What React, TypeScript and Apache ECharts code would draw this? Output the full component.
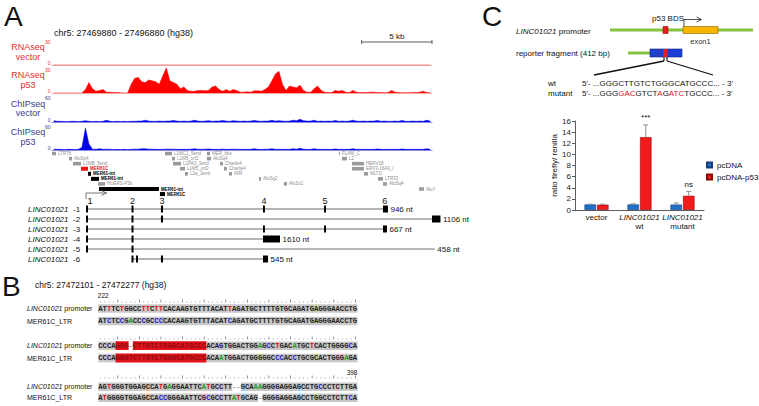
import React, { useEffect, useRef } from "react";
import * as echarts from "echarts";

const FONT = "'Liberation Sans', Arial, Helvetica, sans-serif";
const MONO = "'Liberation Mono', 'DejaVu Sans Mono', monospace";

// ---------------- Panel A data ----------------
const regionLabelA = "chr5: 27469880 - 27496880 (hg38)";
const REGION_KB = 27;
const BIN_KB = 0.25;
const scaleBarKb = 5;

const rnaseqVector = [
  0, 0, 0, 0, 0, 0, 0, 0, 0, 0, 0, 0, 0, 0, 0, 0, 0, 0,
  0, 0, 0, 0, 0, 0, 0, 0, 0, 0, 0, 0, 0, 0, 0, 0, 0, 0,
  0, 0, 0, 0, 0, 0, 0, 0, 0, 0, 0, 0, 0, 0, 0, 0, 0, 0,
  0, 0, 0, 0, 0, 0, 0, 0, 0, 0, 0, 0, 0, 0, 0, 0, 0, 0,
  0, 0, 0, 0, 0, 0, 0, 0, 0, 0, 0, 0, 0, 0, 0, 0, 0, 0,
  0, 0, 0, 0, 0, 0, 0, 0, 0, 0, 0, 0, 0, 0, 0, 0, 0, 0,
];
const rnaseqP53 = [
  0, 0, 0, 0, 0, 0, 0, 0, 0, 4, 12, 5,
  2, 3, 4, 1, 1, 0.5, 0.5, 0.3, 0, 0, 10, 17,
  18, 13, 12, 15, 14, 13, 10, 20, 29, 14, 12, 10,
  5, 7, 3, 2, 2, 3, 3, 2.5, 3, 7, 8, 4,
  2, 4, 2, 4, 3, 1, 1, 1.5, 1, 2.5, 2.5, 2,
  4, 7, 14, 22, 25, 10, 3, 8, 7, 6, 9, 3,
  1, 1, 5, 8, 3, 1, 0.5, 0.5, 3, 2, 3, 1,
  0.5, 3, 1, 0.5, 0.5, 0.5, 1, 1, 0.5, 0.5, 0.3, 0.5,
  3, 1, 0.5, 0.3, 0.3, 0.3, 0.5, 0.5, 1, 2, 0.5, 0.3,
];
const chipVector = [
  3, 1.5, 1.5, 1, 1, 1.5, 1.5, 1, 1.5, 3, 1.5, 1,
  1.5, 1, 1.5, 4, 1.5, 1, 1.5, 1, 1.5, 1, 1.5, 1.5,
  2, 2, 4, 2, 1.5, 1.5, 2, 1.5, 2, 2, 3.5, 2,
  1.5, 2, 1.5, 2, 4, 2, 1.5, 2, 3, 1.5, 2, 2,
  3.5, 2, 1.5, 3, 2, 1.5, 2, 1.5, 2, 3.5, 2, 1.5,
  2, 2, 4, 2, 3, 2, 1.5, 2, 4, 3, 6, 3,
  2, 2, 4, 1.5, 2, 1.5, 2, 1.5, 3.5, 1.5, 2, 1.5,
  2, 4, 2, 1.5, 2, 1.5, 2, 2, 3.5, 1.5, 2, 1.5,
  1.5, 2, 1.5, 3.5, 1.5, 1.5, 2, 1.5, 2, 1.5, 4, 2,
];
const chipP53 = [
  2, 1.5, 1.5, 1, 1.5, 1.5, 1, 1.5, 6, 51, 14, 2,
  1.5, 3, 1.5, 2, 1.5, 1, 1.5, 1, 1.5, 1, 1.5, 2,
  2, 3, 3, 2, 2, 1.5, 1.5, 1.5, 2, 2, 2, 1.5,
  1.5, 1.5, 1.5, 2, 3, 1.5, 1.5, 2, 2.5, 1.5, 1.5, 1.5,
  2, 1.5, 1.5, 2, 1.5, 1.5, 1.5, 1.5, 1.5, 3, 1.5, 1.5,
  1.5, 2, 3, 1.5, 2, 1.5, 1.5, 1.5, 3, 2, 4, 2,
  1.5, 1.5, 3, 1.5, 1.5, 1.5, 1.5, 1.5, 2.5, 1.5, 1.5, 1.5,
  1.5, 3, 1.5, 1.5, 1.5, 1.5, 1.5, 1.5, 2.5, 1.5, 1.5, 1.5,
  1.5, 1.5, 1.5, 2.5, 1.5, 1.5, 1.5, 1.5, 1.5, 1.5, 3, 1.5,
];
const trackTitles = [["RNAseq", "vector"], ["RNAseq", "p53"], ["ChIPseq", "vector"], ["ChIPseq", "p53"]];
const trackMax = [30, 30, 60, 60];

// repeat annotations: [startKb, endKb, row, name, kind]
const repeats: [number, number, number, string, string][] = [
  [0, 0.28, 0, "LTR78", "gray"],
  [1.21, 1.42, 1, "AluSp4", "gray"],
  [1.49, 2.06, 2, "L1MB_5end", "gray"],
  [2.06, 2.56, 3, "MER61C", "red"],
  [2.56, 2.77, 4, "MER61-int", "black"],
  [2.77, 3.34, 5, "MER61-int", "black"],
  [3.27, 3.77, 6, "HUERS-P3b", "gray"],
  [3.34, 7.6, 7, "MER61-int", "black"],
  [7.67, 8.03, 8, "MER61C", "black"],
  [8.03, 8.53, 0, "L1MC1_5end", "gray"],
  [8.53, 8.74, 1, "L1M5_orf2", "gray"],
  [8.6, 9.17, 2, "L1PA3_3end", "gray"],
  [9.1, 9.45, 3, "L1M5_orf2", "gray"],
  [9.45, 9.66, 4, "L2a_3end", "gray"],
  [11.01, 11.23, 0, "MER_bbs", "gray"],
  [11.01, 11.3, 1, "AluSq4", "gray"],
  [11.94, 12.15, 2, "Charlie4", "gray"],
  [12.22, 12.43, 3, "Charlie4", "gray"],
  [12.58, 12.79, 4, "MIR", "gray"],
  [14.71, 14.85, 5, "AluSg2", "gray"],
  [16.48, 16.7, 6, "AluSx1", "gray"],
  [20.39, 20.46, 0, "FLAM_C", "gray"],
  [20.6, 20.96, 1, "L2", "gray"],
  [21.32, 22.17, 2, "HERV18", "gray"],
  [21.32, 22.17, 3, "ERV3-16A3_I", "gray"],
  [22.17, 22.45, 4, "MLT1I", "gray"],
  [23.16, 23.52, 5, "LTR33", "gray"],
  [23.52, 23.8, 6, "AluSq4", "gray"],
  [26.08, 26.43, 7, "AluY", "gray"],
];

// transcripts
const geneName = "LINC01021";
const exonNumberKb = [2.7, 5.72, 7.82, 15.06, 19.4, 23.65];
const transcriptIds = ["-1", "-2", "-3", "-4", "-5", "-6"];
const transcriptSpans: [number, number][] = [[2.42, 23.87], [2.42, 27.6], [2.42, 23.8], [2.42, 16.2], [2.42, 27.2], [5.65, 15.35]];
const transcriptExons: [number, number][][] = [
  [[2.42, 2.56], [5.65, 5.79], [7.74, 7.89], [14.99, 15.13], [19.33, 19.47], [23.52, 23.87]],
  [[2.42, 2.56], [5.65, 5.79], [7.74, 7.89], [27.0, 27.6]],
  [[2.42, 2.56], [5.65, 5.79], [14.99, 15.13], [19.33, 19.47], [23.52, 23.8]],
  [[2.42, 2.56], [5.65, 5.79], [14.99, 16.2]],
  [[2.42, 2.56], [5.65, 5.79]],
  [[5.65, 5.79], [5.97, 6.11], [7.74, 7.89], [14.99, 15.35]],
];
const transcriptLongIntron = [false, true, false, false, true, false];
const transcriptLengths = ["946 nt", "1106 nt", "667 nt", "1610 nt", "458 nt", "545 nt"];

// ---------------- Panel B data ----------------
const regionLabelB = "chr5: 27472101 - 27472277 (hg38)";
const alignStart = "222";
const alignEnd = "398";
const seqPromoter = [
  "ATTTCTGGCCTTCTTCACAAGTGTTTACATTAGATGCTTTTGTGCAGATGAGGGAACCTG",
  "CCCAGGG-CTTGTCTGGGCATGCCCACAGTGGACTGGAGCCTGACATGCTCACTGGGGCA",
  "AGTGGGTGGAGCCATGAGGAATTCATGCCTT--GCAAAGGGGAGGAGCCTGCCCTCTTGA",
];
const seqMER = [
  "ATCTCCGACCCGCCCCACAAGTGTTTACATCAGATGCTTTTGTGCAGATGAGGGAACCTG",
  "CCCAGGGTCTTGTCTGGGCATGCCCACAATGGACTGGGGGCCCACCTGCGCACTGGGAGA",
  "ATGGGGTGGAGCCACCGGGAATTCGCGCCTTATGCAG-GGGGAGGAGCCTGGCCTCTTCA",
];
// p53 binding-site highlight ranges [block, start, end) for promoter / MER
const highlightPromoter: [number, number, number][] = [[1, 4, 7], [1, 8, 25]];
const highlightMER: [number, number, number][] = [[1, 4, 25]];

// ---------------- Panel C data ----------------
const wtSeq = "GGGCTTGTCTGGGCATGCCC";
const mutSeq = "GGGGACGTCTAGATCTGCCC";
const barCategories = ["vector", "wt", "mutant"];
const seriesNames = ["pcDNA", "pcDNA-p53"];
const pcdnaMean = [1.0, 1.0, 0.97];
const pcdnaErrTop = [1.05, 1.1, 1.25];
const p53Mean = [0.95, 13.1, 2.55];
const p53ErrTop = [1.05, 15.3, 3.35];
const p53Signif = ["", "***", "ns"];

// ---------------- layout ----------------
const TRACK_LEFT = 52;
const TRACK_WIDTH = 380;
const trackGrids = [[39, 26], [67, 26], [95, 27], [124, 26]];
const trackColors = ["#ff0000", "#ff0000", "#0000e6", "#0000e6"];
const baseColors = ["#f4a6a6", "#f4a6a6", "#8c8ce8", "#8c8ce8"];
const labelColors = ["#e8302a", "#e8302a", "#3c3c8c", "#3c3c8c"];
const BAR_W = 11.5;
const BAR_GAP = 1;

const baseColor: Record<string, string> = { A: "#1c9a1c", C: "#1a1ad0", G: "#222222", T: "#e01010" };

function buildGraphic() {
  const g: any[] = [];
  const txt = (x: number, y: number, text: string, o: any = {}) =>
    g.push({ type: "text", x, y, silent: true, style: { text, fontFamily: FONT, fontSize: 8, fill: "#111", verticalAlign: "middle", ...o } });
  const line = (x1: number, y1: number, x2: number, y2: number, stroke = "#111", lineWidth = 1) =>
    g.push({ type: "line", silent: true, shape: { x1, y1, x2, y2 }, style: { stroke, lineWidth } });
  const rect = (x: number, y: number, width: number, height: number, fill: string, stroke?: string) =>
    g.push({ type: "rect", silent: true, shape: { x, y, width, height }, style: { fill, stroke: stroke || null, lineWidth: stroke ? 0.6 : 0 } });

  // panel letters
  txt(4, 16, "A", { fontSize: 28 });
  txt(2, 286, "B", { fontSize: 28 });
  txt(482, 16, "C", { fontSize: 28 });

  // ----- A -----
  txt(54, 33, regionLabelA, { fontSize: 9 });
  const pxPerKb = TRACK_WIDTH / REGION_KB;
  const sbx1 = TRACK_LEFT + TRACK_WIDTH, sbx0 = sbx1 - scaleBarKb * pxPerKb;
  line(sbx0, 42, sbx1, 42, "#333", 0.8);
  line(sbx0, 40, sbx0, 44, "#333", 0.8);
  line(sbx1, 40, sbx1, 44, "#333", 0.8);
  txt((sbx0 + sbx1) / 2, 36, `${scaleBarKb} kb`, { fontSize: 8, align: "center" });
  trackTitles.forEach((t, k) => {
    const [top, h] = trackGrids[k];
    const c = top + h / 2;
    txt(28, c - 5, t[0], { fontSize: 9, align: "center", fill: labelColors[k] });
    txt(28, c + 4.5, t[1], { fontSize: 9, align: "center", fill: labelColors[k] });
  });

  // ----- B -----
  txt(35, 285, regionLabelB, { fontSize: 8.5 });
  const X0 = 98.3, CW = 4.32;
  const rowY = [[308.5, 321], [345.7, 358], [386.7, 397.7]];
  const rulerY = [301, 338, 377];
  txt(X0 - 0.5, 295, alignStart, { fontSize: 6.5 });
  txt(X0 + 60 * CW, 372, alignEnd, { fontSize: 6.5, align: "right" });
  for (let b = 0; b < 3; b++) {
    for (let i = 0; i < 60; i++) {
      const x = X0 + (i + 0.5) * CW;
      if (i % 5 === 4) rect(x - 0.35, rulerY[b] - 1.6, 0.7, 3.2, "#666");
      else rect(x - 0.4, rulerY[b] + 0.6, 0.8, 0.8, "#888");
    }
    const rows = [seqPromoter[b], seqMER[b]];
    const hls = [highlightPromoter, highlightMER];
    rows.forEach((s, r) => {
      const other = rows[1 - r];
      const y = rowY[b][r];
      let i = 0;
      while (i < s.length) {
        if (s[i] === "-") { i++; continue; }
        let j = i;
        while (j < s.length && s[j] !== "-") j++;
        rect(X0 + i * CW, y - 4.2, (j - i) * CW, 8.4, "#c8c8c8");
        i = j;
      }
      const hl = hls[r].filter((h) => h[0] === b);
      hl.forEach((h) => rect(X0 + h[1] * CW, y - 4.4, (h[2] - h[1]) * CW, 8.8, "#e3121b"));
      const keyAt = (k: number) => {
        const c = s[k];
        if (hl.some((h) => k >= h[1] && k < h[2])) return "h";
        if (c === "-") return "d";
        if (other[k] !== c) return c.toLowerCase();
        return "n";
      };
      let text = "";
      let k = 0;
      while (k < s.length) {
        const key = keyAt(k);
        let m = k;
        while (m < s.length && keyAt(m) === key) m++;
        text += `{${key}|${s.slice(k, m)}}`;
        k = m;
      }
      const rs = (fill: string) => ({ fill, fontFamily: MONO, fontSize: 7.2, fontWeight: "bold" });
      g.push({
        type: "text", x: X0, y, silent: true,
        style: {
          text, verticalAlign: "middle", fontFamily: MONO, fontSize: 7.2, fontWeight: "bold",
          rich: { n: rs("#222"), a: rs(baseColor.A), c: rs(baseColor.C), g: rs("#222"), t: rs(baseColor.T), h: rs("#8a0c10"), d: rs("#9a9a9a") },
        },
      });
    });
    g.push({
      type: "text", x: 27, y: rowY[b][0], silent: true,
      style: {
        text: `{i|${geneName}}{n| promoter}`, verticalAlign: "middle",
        rich: { i: { fontStyle: "italic", fontFamily: FONT, fontSize: 7, fill: "#111" }, n: { fontFamily: FONT, fontSize: 7, fill: "#111" } },
      },
    });
    txt(27, rowY[b][1], "MER61C_LTR", { fontSize: 7 });
  }

  // ----- C diagram -----
  g.push({
    type: "text", x: 516, y: 31, silent: true,
    style: {
      text: `{i|${geneName}}{n| promoter}`, verticalAlign: "middle",
      rich: { i: { fontStyle: "italic", fontFamily: FONT, fontSize: 8, fill: "#111" }, n: { fontFamily: FONT, fontSize: 8, fill: "#111" } },
    },
  });
  line(610, 30, 753, 30, "#86c440", 3);
  rect(663, 26.5, 5, 7, "#e81c1c", "#8a1010");
  rect(683, 26.5, 35, 7, "#f7b500", "#8a6000");
  txt(700.5, 41, "exon1", { fontSize: 7.5, align: "center", fill: "#333" });
  txt(668, 18.5, "p53 BDS", { fontSize: 8, align: "center" });
  g.push({ type: "polyline", silent: true, shape: { points: [[684, 26.5], [684, 19.5], [701, 19.5]] }, style: { stroke: "#222", lineWidth: 0.8, fill: null } });
  g.push({ type: "polyline", silent: true, shape: { points: [[696.5, 17], [701.5, 19.5], [696.5, 22]] }, style: { stroke: "#222", lineWidth: 0.8, fill: null } });
  txt(516, 53, "reporter fragment (412 bp)", { fontSize: 8 });
  line(628, 53, 650, 53, "#86c440", 3);
  rect(650, 49, 32, 8, "#1c40d4", "#0f2080");
  rect(663, 49, 4.5, 8, "#e81c1c");
  line(664, 57, 664, 61, "#111", 1.1);
  line(667, 57, 667, 61, "#111", 1.1);
  line(664, 61, 594, 75, "#111", 1.3);
  line(667, 61, 713, 75, "#111", 1.3);
  txt(548, 83, "wt", { fontSize: 8 });
  txt(548, 93, "mutant", { fontSize: 8 });
  txt(582, 83, `5'- ...${wtSeq}... - 3'`, { fontSize: 8 });
  let mt = "";
  let k = 0;
  while (k < mutSeq.length) {
    const red = mutSeq[k] !== wtSeq[k];
    let m = k;
    while (m < mutSeq.length && (mutSeq[m] !== wtSeq[m]) === red) m++;
    mt += `{${red ? "r" : "n"}|${mutSeq.slice(k, m)}}`;
    k = m;
  }
  g.push({
    type: "text", x: 582, y: 93, silent: true,
    style: {
      text: `{n|5'- ...}${mt}{n|... - 3'}`, verticalAlign: "middle",
      rich: { n: { fontFamily: FONT, fontSize: 8, fill: "#111" }, r: { fontFamily: FONT, fontSize: 8, fill: "#e8141c" } },
    },
  });
  return g;
}

function buildOption() {
  const grids: any[] = trackGrids.map(([top, h]) => ({ left: TRACK_LEFT, width: TRACK_WIDTH, top, height: h }));
  grids.push({ left: TRACK_LEFT, width: TRACK_WIDTH, top: 151, height: 45.6 }); // repeats
  grids.push({ left: TRACK_LEFT, width: TRACK_WIDTH, top: 199, height: 65 }); // transcripts
  grids.push({ left: 575, width: 129, top: 121, height: 89 }); // bar chart

  const hiddenX = (i: number) => ({ type: "value", gridIndex: i, min: 0, max: REGION_KB, show: false });
  const xAxes: any[] = trackGrids.map((_, k) => ({
    type: "value", gridIndex: k, min: 0, max: REGION_KB,
    axisLine: { show: true, lineStyle: { color: baseColors[k], width: 1 } },
    axisTick: { show: false }, axisLabel: { show: false }, splitLine: { show: false },
  }));
  xAxes.push(hiddenX(4), hiddenX(5));
  xAxes.push({
    type: "category", gridIndex: 6, data: barCategories,
    axisLine: { lineStyle: { color: "#333", width: 0.8 } }, axisTick: { show: false },
    axisLabel: {
      margin: 3, interval: 0,
      formatter: (v: string) => (v === "vector" ? `{n|${v}}` : `{i|${geneName}}\n{n|${v}}`),
      rich: {
        i: { fontStyle: "italic", fontSize: 8, fontFamily: FONT, color: "#111", lineHeight: 9 },
        n: { fontSize: 8, fontFamily: FONT, color: "#111", lineHeight: 9 },
      },
    },
  });

  const yAxes: any[] = trackGrids.map((_, k) => ({
    type: "value", gridIndex: k, min: 0, max: trackMax[k], interval: trackMax[k],
    axisLine: { show: false }, axisTick: { show: false }, splitLine: { show: false },
    axisLabel: {
      fontSize: 5, color: labelColors[k], margin: 1.5, fontFamily: FONT,
      verticalAlignMinLabel: "bottom", verticalAlignMaxLabel: "top",
    },
  }));
  yAxes.push({ type: "value", gridIndex: 4, min: -0.5, max: 8.5, inverse: true, show: false });
  yAxes.push({ type: "value", gridIndex: 5, min: -1, max: 5.5, inverse: true, show: false });
  yAxes.push({
    type: "value", gridIndex: 6, min: 0, max: 16, interval: 2,
    name: "ratio firefly/ renilla", nameLocation: "middle", nameGap: 17,
    nameTextStyle: { fontSize: 8, fontFamily: FONT, color: "#111" },
    axisLine: { show: true, lineStyle: { color: "#333", width: 0.8 } },
    axisTick: { show: true, length: 3, lineStyle: { color: "#333", width: 0.8 } },
    axisLabel: { fontSize: 8, fontFamily: FONT, color: "#222", margin: 4 },
    splitLine: { show: false },
  });

  const trackData = [rnaseqVector, rnaseqP53, chipVector, chipP53];
  const series: any[] = trackData.map((arr, k) => ({
    type: "line", xAxisIndex: k, yAxisIndex: k, silent: true, symbol: "none",
    data: arr.map((v, i) => [(i + 0.5) * BIN_KB, v]),
    lineStyle: { width: 0.5, color: trackColors[k] },
    areaStyle: { color: trackColors[k], opacity: 1 },
    z: 3,
  }));

  // repeats
  series.push({
    type: "custom", xAxisIndex: 4, yAxisIndex: 4, silent: true, clip: false,
    data: repeats.map((r) => [r[0], r[1], r[2]]),
    encode: { x: [0, 1], y: 2 },
    renderItem: (params: any, api: any) => {
      const r = repeats[params.dataIndex];
      const s = api.coord([api.value(0), api.value(2)]);
      const e = api.coord([api.value(1), api.value(2)]);
      const fill = r[4] === "red" ? "#ee1111" : r[4] === "black" ? "#000" : "#9a9a9a";
      const lab = r[4] === "red" ? "#e02020" : r[4] === "black" ? "#000" : "#8e8e8e";
      const hh = r[4] === "gray" ? 3.6 : 4;
      return {
        type: "group",
        children: [
          { type: "rect", shape: { x: s[0], y: s[1] - hh / 2, width: Math.max(e[0] - s[0], 1), height: hh }, style: { fill } },
          { type: "text", style: { text: r[3], x: e[0] + 2, y: s[1], verticalAlign: "middle", fontSize: 4.5, fontFamily: FONT, fontWeight: r[4] === "gray" ? "normal" : "bold", fill: lab } },
        ],
      };
    },
  });

  // transcripts
  series.push({
    type: "custom", xAxisIndex: 5, yAxisIndex: 5, silent: true, clip: false,
    data: transcriptSpans.map((s, i) => [s[0], s[1], i]),
    encode: { x: [0, 1], y: 2 },
    renderItem: (params: any, api: any) => {
      const i = params.dataIndex;
      const y = api.coord([0, i])[1];
      const x0 = api.coord([api.value(0), i])[0];
      const x1 = api.coord([api.value(1), i])[0];
      const thick = transcriptLongIntron[i];
      const ch: any[] = [
        { type: "line", shape: { x1: x0, y1: y, x2: x1, y2: y }, style: { stroke: thick ? "#b8b8b8" : "#444", lineWidth: thick ? 2.2 : 0.8 } },
      ];
      transcriptExons[i].forEach(([a, b]) => {
        const xa = api.coord([a, i])[0], xb = api.coord([b, i])[0];
        ch.push({ type: "rect", shape: { x: xa, y: y - 3.5, width: Math.max(xb - xa, 1.8), height: 7 }, style: { fill: "#000" } });
      });
      ch.push({ type: "text", style: { text: transcriptLengths[i], x: x1 + 2.5, y, verticalAlign: "middle", fontSize: 8, fontFamily: FONT, fill: "#111" } });
      ch.push({ type: "text", style: { text: geneName, x: 28, y, verticalAlign: "middle", fontSize: 8, fontStyle: "italic", fontFamily: FONT, fill: "#111" } });
      ch.push({ type: "text", style: { text: transcriptIds[i], x: 73, y, verticalAlign: "middle", fontSize: 8, fontFamily: FONT, fill: "#111" } });
      return { type: "group", children: ch };
    },
  });

  // exon numbers + TSS arrow
  series.push({
    type: "custom", xAxisIndex: 5, yAxisIndex: 5, silent: true, clip: false,
    data: exonNumberKb.map((x) => [x, -0.8]),
    encode: { x: 0, y: 1 },
    renderItem: (params: any, api: any) => {
      const p = api.coord([api.value(0), api.value(1)]);
      const ch: any[] = [
        { type: "text", style: { text: String(params.dataIndex + 1), x: p[0], y: p[1], align: "center", verticalAlign: "middle", fontSize: 9, fontFamily: FONT, fill: "#111" } },
      ];
      if (params.dataIndex === 0) {
        const a = api.coord([transcriptSpans[0][0], -1.0]);
        const b = api.coord([transcriptSpans[0][0], -1.6]);
        const c = api.coord([transcriptSpans[0][0] + 1.45, -1.6]);
        ch.push({ type: "polyline", shape: { points: [a, b, c] }, style: { stroke: "#555", lineWidth: 0.8, fill: null } });
        ch.push({ type: "polyline", shape: { points: [[c[0] - 5, c[1] - 2.5], [c[0], c[1]], [c[0] - 5, c[1] + 2.5]] }, style: { stroke: "#555", lineWidth: 0.8, fill: null } });
      }
      return { type: "group", children: ch };
    },
  });

  // bars
  series.push({
    name: seriesNames[0], type: "bar", xAxisIndex: 6, yAxisIndex: 6, data: pcdnaMean,
    barWidth: BAR_W, barGap: "9%",
    itemStyle: { color: "#1f6fc8", borderColor: "#173c78", borderWidth: 0.6 },
  });
  series.push({
    name: seriesNames[1], type: "bar", xAxisIndex: 6, yAxisIndex: 6, data: p53Mean,
    barWidth: BAR_W, barGap: "9%",
    itemStyle: { color: "#f21a1a", borderColor: "#8a0a0a", borderWidth: 0.6 },
  });
  const errData: number[][] = [];
  barCategories.forEach((_, c) => {
    errData.push([c, pcdnaMean[c], pcdnaErrTop[c], 0]);
    errData.push([c, p53Mean[c], p53ErrTop[c], 1]);
  });
  series.push({
    type: "custom", xAxisIndex: 6, yAxisIndex: 6, silent: true, clip: false, z: 5,
    data: errData, encode: { x: 0, y: [1, 2] },
    renderItem: (params: any, api: any) => {
      const c = api.value(0), m = api.value(1), e = api.value(2), s = api.value(3);
      const p0 = api.coord([c, m]);
      const p1 = api.coord([c, e]);
      const x = p0[0] + (s === 0 ? -1 : 1) * (BAR_W / 2 + BAR_GAP / 2);
      const ch: any[] = [
        { type: "line", shape: { x1: x, y1: p0[1], x2: x, y2: p1[1] }, style: { stroke: "#8c8c8c", lineWidth: 1 } },
        { type: "line", shape: { x1: x - 2.5, y1: p1[1], x2: x + 2.5, y2: p1[1] }, style: { stroke: "#8c8c8c", lineWidth: 1 } },
      ];
      const sig = s === 1 ? p53Signif[c] : "";
      if (sig) ch.push({ type: "text", style: { text: sig, x, y: p1[1] - 3, align: "center", verticalAlign: "bottom", fontSize: 8, fontFamily: FONT, fill: "#111" } });
      return { type: "group", children: ch };
    },
  });

  return {
    animation: false,
    backgroundColor: "#ffffff",
    textStyle: { fontFamily: FONT },
    grid: grids,
    xAxis: xAxes,
    yAxis: yAxes,
    legend: {
      data: seriesNames, orient: "vertical", left: 701, top: 156, itemWidth: 5, itemHeight: 5, itemGap: 4,
      icon: "rect", textStyle: { fontSize: 8, fontFamily: FONT, color: "#111" },
    },
    series,
    graphic: buildGraphic(),
  };
}

export default function App() {
  const ref = useRef<HTMLDivElement>(null);
  useEffect(() => {
    if (!ref.current) return;
    const chart = echarts.init(ref.current, undefined, { renderer: "svg", width: 759, height: 406 });
    chart.setOption(buildOption() as any);
    return () => chart.dispose();
  }, []);
  return <div ref={ref} style={{ position: "absolute", left: 0, top: 0, width: 759, height: 406, background: "#fff" }} />;
}
